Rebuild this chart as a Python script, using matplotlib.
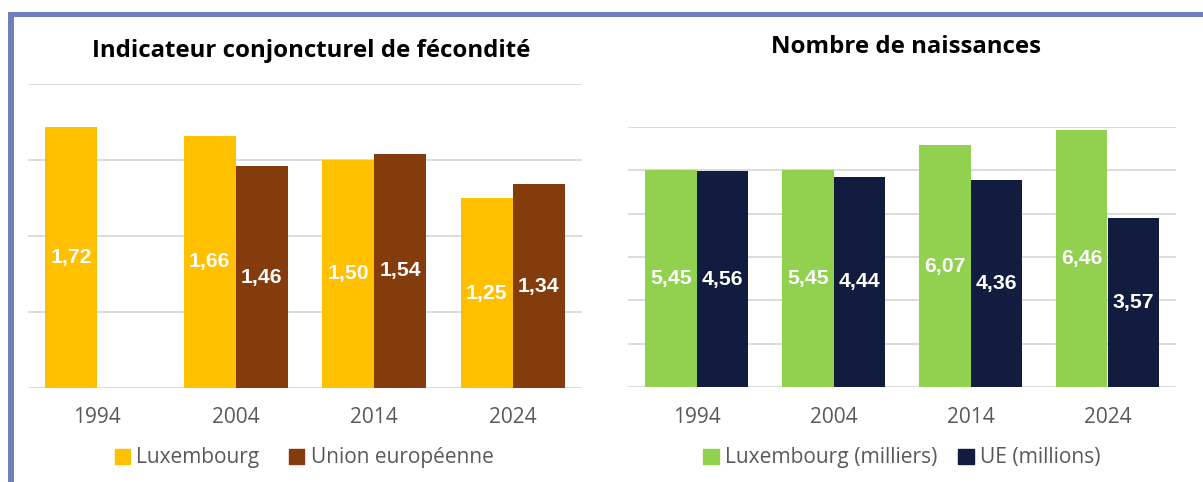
import numpy as np
import matplotlib
matplotlib.use("Agg")
import matplotlib.pyplot as plt
from matplotlib.patches import Rectangle, Patch

W, H = 1203, 482
years = ["1994", "2004", "2014", "2024"]

# Indicateur conjoncturel de fécondité
icf_lux = [1.72, 1.66, 1.50, 1.25]
icf_ue = [np.nan, 1.46, 1.54, 1.34]

# Nombre de naissances
nais_lux = [5.45, 5.45, 6.07, 6.46]   # milliers
nais_ue = [4.56, 4.44, 4.36, 3.57]    # millions

c_lux1, c_ue1 = "#FFC000", "#843C0C"
c_lux2, c_ue2 = "#92D050", "#111C3E"
grid_c = "#D9D9D9"
txt_c = "#595959"
border_c = "#6E7EBE"

fig = plt.figure(figsize=(W / 100, H / 100), dpi=100)
fig.patch.set_facecolor("white")

def ax_rect(x0, x1, ybot, ytop):
    return [x0 / W, 1 - ybot / H, (x1 - x0) / W, (ybot - ytop) / H]

def fmt(v):
    return "" if np.isnan(v) else f"{v:.2f}".replace(".", ",")

bw = 0.376
x = np.arange(len(years))

def style(ax, nticks_max, ymax):
    ax.set_xlim(-0.5, 3.5)
    ax.set_ylim(0, ymax)
    for s in ax.spines.values():
        s.set_visible(False)
    ax.set_yticks(np.linspace(0, ymax, nticks_max + 1))
    ax.tick_params(axis="y", left=False, right=False, labelleft=False, labelright=False)
    ax.yaxis.grid(True, color=grid_c, linewidth=1.3)
    ax.set_axisbelow(True)
    ax.set_xticks(x)
    ax.set_xticklabels(years, fontsize=15, color=txt_c, fontfamily="Open Sans")
    ax.tick_params(axis="x", length=0, pad=14)

lab_font = dict(fontsize=15.3, color="white", fontweight="bold", fontfamily="Liberation Sans")

# Left chart
ax1 = fig.add_axes(ax_rect(28, 582, 388, 84))
style(ax1, 4, 2.0)
b1 = ax1.bar(x - bw / 2, icf_lux, bw, color=c_lux1, zorder=2)
b2 = ax1.bar(x + bw / 2, np.nan_to_num(icf_ue), bw, color=c_ue1, zorder=2)
ax1.bar_label(b1, labels=[fmt(v) for v in icf_lux], label_type="center", **lab_font)
ax1.bar_label(b2, labels=[fmt(v) for v in icf_ue], label_type="center", **lab_font)

# Right chart
ymax_lux = 6.54
ymax_ue = 5.494
ax2 = fig.add_axes(ax_rect(628, 1176, 387.3, 126.7))
ax3 = ax2.twinx()
style(ax2, 6, ymax_lux)
b3 = ax2.bar(x - bw / 2, nais_lux, bw, color=c_lux2, zorder=2)
ax2.bar_label(b3, labels=[fmt(v) for v in nais_lux], label_type="center", **lab_font)
ax3.set_ylim(0, ymax_ue)
ax3.set_axis_off()
b4 = ax3.bar(x + bw / 2, nais_ue, bw, color=c_ue2, zorder=2)
ax3.bar_label(b4, labels=[fmt(v) for v in nais_ue], label_type="center", **lab_font)

# Titles
fig.text(311 / W, 1 - 57 / H, "Indicateur conjoncturel de fécondité", ha="center", va="baseline",
         fontsize=17.3, fontweight="bold", fontfamily="Open Sans", color="black")
fig.text(906 / W, 1 - 53 / H, "Nombre de naissances", ha="center", va="baseline",
         fontsize=17.3, fontweight="bold", fontfamily="Open Sans", color="black")

# Legends
leg_kw = dict(loc="center", ncol=2, frameon=False, handlelength=0.75, handleheight=0.75,
              handletextpad=0.3, labelcolor=txt_c, bbox_transform=fig.transFigure)
fig.legend(handles=[Patch(color=c_lux1, label="Luxembourg"), Patch(color=c_ue1, label="Union européenne")],
           bbox_to_anchor=(304 / W, 1 - 458 / H), columnspacing=1.4,
           prop={"family": "Open Sans", "size": 15}, **leg_kw)
fig.legend(handles=[Patch(color=c_lux2, label="Luxembourg (milliers)"), Patch(color=c_ue2, label="UE (millions)")],
           bbox_to_anchor=(902 / W, 1 - 458 / H), columnspacing=1.0,
           prop={"family": "Open Sans", "size": 15.1}, **leg_kw)

# Border
fig.add_artist(Rectangle((8 / W, 1 - 17 / H), (W - 8) / W, 5 / H, transform=fig.transFigure,
                         color=border_c, lw=0))
fig.add_artist(Rectangle((8 / W, 0), 6 / W, (H - 12) / H, transform=fig.transFigure,
                         color=border_c, lw=0))

fig.savefig("out.png", dpi=100)
